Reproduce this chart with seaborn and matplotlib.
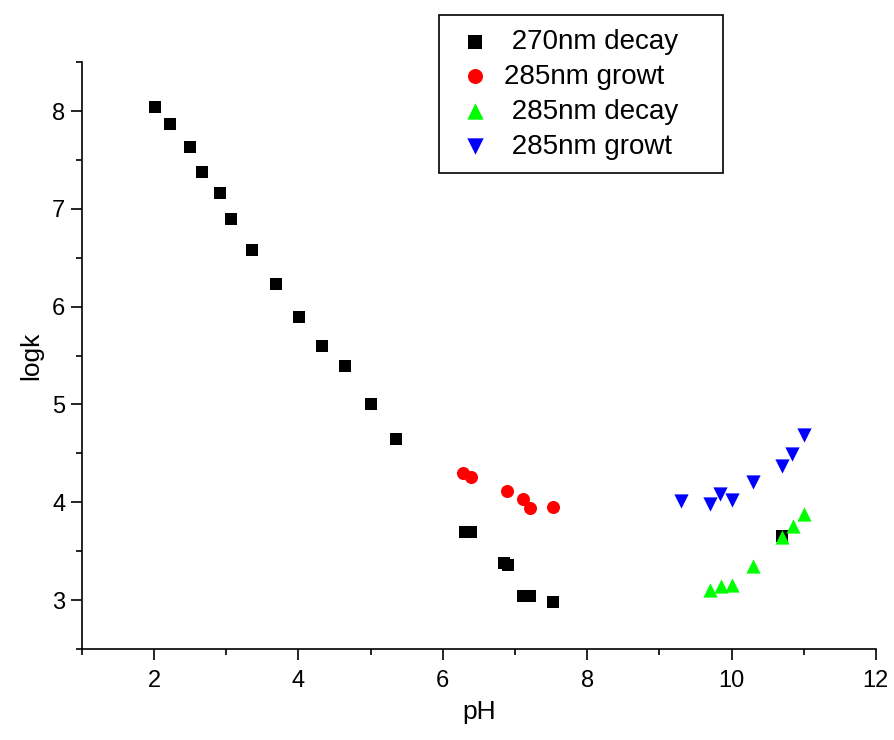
import matplotlib
matplotlib.use("Agg")
import matplotlib.pyplot as plt
from matplotlib.ticker import MultipleLocator
import pandas as pd
import seaborn as sns

# Data
ph_270_decay = [2.01, 2.22, 2.50, 2.66, 2.91, 3.07, 3.35, 3.69, 4.01, 4.33, 4.65, 5.00, 5.35,
                6.31, 6.39, 6.85, 6.90, 7.11, 7.21, 7.52, 10.70]
logk_270_decay = [8.04, 7.87, 7.63, 7.38, 7.16, 6.90, 6.58, 6.23, 5.89, 5.60, 5.39, 5.00, 4.65,
                  3.70, 3.70, 3.38, 3.36, 3.04, 3.04, 2.98, 3.66]

ph_285_growth_a = [6.28, 6.39, 6.89, 7.11, 7.21, 7.52]
logk_285_growth_a = [4.30, 4.26, 4.12, 4.03, 3.94, 3.95]

ph_285_decay = [9.70, 9.85, 10.01, 10.30, 10.70, 10.85, 11.00]
logk_285_decay = [3.10, 3.14, 3.15, 3.35, 3.64, 3.76, 3.88]

ph_285_growth_b = [9.30, 9.70, 9.84, 10.01, 10.30, 10.70, 10.84, 11.00]
logk_285_growth_b = [4.01, 3.98, 4.08, 4.02, 4.21, 4.37, 4.49, 4.69]

# the odd leading spaces are in the original legend too
series = [
    (" 270nm decay    ", ph_270_decay, logk_270_decay, "s", "black", 75),
    ("285nm growt", ph_285_growth_a, logk_285_growth_a, "o", "red", 88),
    (" 285nm decay", ph_285_decay, logk_285_decay, "^", "#00ff00", 105),
    (" 285nm growt", ph_285_growth_b, logk_285_growth_b, "v", "blue", 105),
]

sns.set_style("ticks")
plt.rcParams['font.family'] = ['Liberation Sans', 'DejaVu Sans']
plt.rcParams.update({'text.color': 'black', 'axes.labelcolor': 'black',
                     'xtick.color': 'black', 'ytick.color': 'black'})

fig = plt.figure(figsize=(8.94, 7.40), dpi=100)
ax = fig.add_axes([0.0917, 0.123, 0.888, 0.793])

for label, xs, ys, marker, color, size in series:
    df = pd.DataFrame({'pH': xs, 'logk': ys})
    sns.scatterplot(data=df, x='pH', y='logk', marker=marker, color=color, s=size,
                    linewidth=0, ax=ax, label=label)

ax.set_xlim(1, 12)
ax.set_ylim(2.5, 8.5)
ax.xaxis.set_major_locator(MultipleLocator(2))
ax.xaxis.set_minor_locator(MultipleLocator(1))
ax.yaxis.set_major_locator(MultipleLocator(1))
ax.yaxis.set_minor_locator(MultipleLocator(0.5))
ax.tick_params(which='major', direction='out', length=8, width=1.2, labelsize=17, color='black')
ax.tick_params(which='minor', direction='out', length=4, width=1.2, color='black')
ax.tick_params(axis='x', which='major', pad=7)
ax.tick_params(axis='y', which='major', pad=4)
for side in ['top', 'right']:
    ax.spines[side].set_visible(False)
for side in ['left', 'bottom']:
    ax.spines[side].set_linewidth(1.2)
    ax.spines[side].set_color('black')

ax.set_xlabel('pH', fontsize=19, labelpad=6)
ax.set_ylabel('logk', fontsize=19, labelpad=6)

leg = ax.legend(loc='upper left', bbox_to_anchor=(439 / 894, 1 - 15 / 740),
                bbox_transform=fig.transFigure, borderaxespad=0, fontsize=20,
                frameon=True, fancybox=False, edgecolor='black', framealpha=1,
                labelspacing=0.32, handlelength=1.6, handletextpad=0.25, borderpad=0.5,
                markerscale=1.15)
leg.get_frame().set_linewidth(1.2)

fig.savefig('out.png', dpi=100)
